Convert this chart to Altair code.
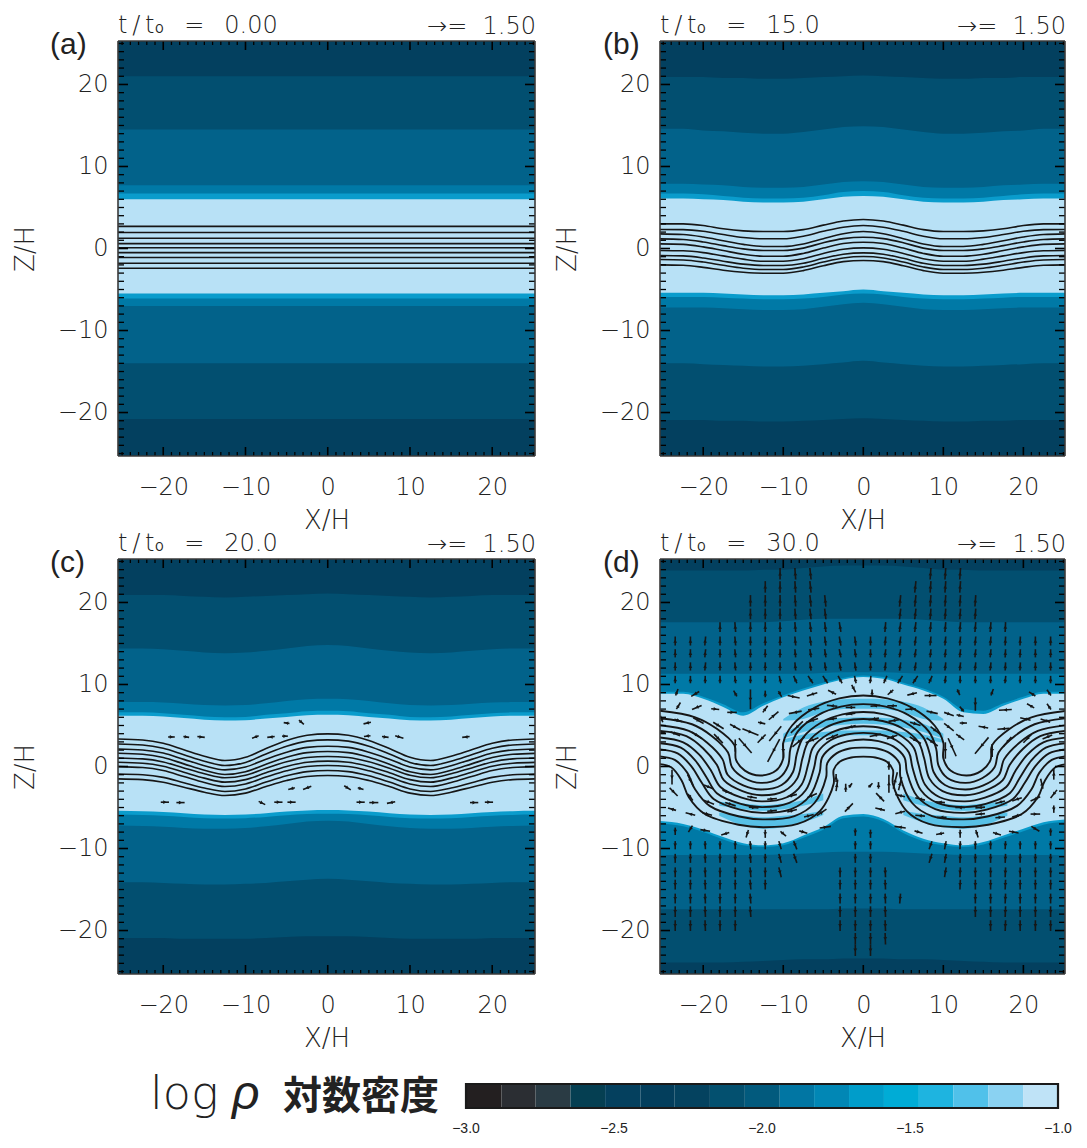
import math
import altair as alt
import pandas as pd

FONT = "DejaVu Sans"
WEIGHT = 200
INK = "#222222"
W_L, W_R, H = 417, 405, 415
X_DOMAIN_L = [-25.5, 25.2]
X_DOMAIN_R = [-25.4, 25.2]
Y_DOMAIN = [-25.3, 25.3]
TOP_EDGE, BOTTOM_EDGE = 26, -26

# density colours, outside-in
C0, C1, C2, C3, C4, LIGHT, STRIPE = "#03405f", "#024f70", "#02628a", "#0079a6", "#0a9ccc", "#b8e1f6", "#2db2e0"
BAND_COLORS = [C0, C1, C2, C3, C4, LIGHT, C4, C3, C2, C1, C0]

X_FLAT = [-26, 26]
X_GRID = [-26, -22.5, -20, -17.5, -15, -12.5, -10, -7.5, -5, -2.5, 0,
          2.5, 5, 7.5, 10, 12.5, 15, 17.5, 20, 22.5, 26]


def sym(h):
    return h + h[-2::-1]


# ---- panel a
A_BOUNDS = [[21, 21], [14.5, 14.5], [7.7, 7.7], [6.7, 6.7], [6.0, 6.0],
            [-5.5, -5.5], [-6.1, -6.1], [-7, -7], [-14, -14], [-20.8, -20.8]]
A_LEVELS = [2.7, 1.95, 1.25, 0.6, 0.1, -0.5, -1.1, -1.8, -2.4]

# ---- panel b
B_BOUNDS = [
    sym([20.9, 20.9, 20.9, 20.8, 20.8, 20.7, 20.7, 20.8, 20.9, 21, 21.1]),
    sym([14.6, 14.6, 14.4, 14.3, 14.1, 14, 14, 14.2, 14.5, 14.8, 14.9]),
    sym([7.9, 7.9, 7.8, 7.7, 7.5, 7.4, 7.4, 7.5, 7.8, 8.1, 8.2]),
    sym([6.7, 6.7, 6.6, 6.4, 6.2, 6.1, 6.1, 6.2, 6.5, 6.9, 7]),
    sym([6.1, 6.1, 6, 5.9, 5.7, 5.6, 5.6, 5.7, 6, 6.3, 6.4]),
    sym([-5.4, -5.4, -5.4, -5.5, -5.6, -5.7, -5.7, -5.6, -5.4, -5.2, -5]),
    sym([-5.9, -5.9, -5.9, -6, -6.1, -6.2, -6.2, -6.1, -5.9, -5.6, -5.5]),
    sym([-7.2, -7.2, -7.2, -7.3, -7.4, -7.5, -7.5, -7.4, -7.1, -6.8, -6.6]),
    sym([-14, -14, -14.1, -14.2, -14.3, -14.4, -14.4, -14.3, -14.1, -13.9, -13.7]),
    sym([-20.9, -20.9, -20.9, -21, -21, -21.1, -21.1, -21, -20.9, -20.8, -20.7]),
]
B_LINES = [
    sym([3.01, 3.0, 2.8, 2.4, 2.15, 2.07, 2.07, 2.3, 2.85, 3.35, 3.54]),
    sym([2.32, 2.3, 2.1, 1.7, 1.35, 1.18, 1.18, 1.5, 2.1, 2.6, 2.80]),
    sym([1.79, 1.7, 1.4, 0.95, 0.5, 0.24, 0.24, 0.55, 1.2, 1.8, 2.07]),
    sym([1.18, 1.1, 0.8, 0.35, -0.05, -0.24, -0.24, 0.05, 0.7, 1.2, 1.38]),
    sym([0.57, 0.5, 0.2, -0.25, -0.7, -0.94, -0.94, -0.6, 0.05, 0.6, 0.77]),
    sym([-0.24, -0.28, -0.5, -0.9, -1.3, -1.55, -1.55, -1.25, -0.6, -0.1, 0.08]),
    sym([-0.85, -0.9, -1.15, -1.55, -1.9, -2.07, -2.07, -1.8, -1.2, -0.7, -0.53]),
    sym([-1.34, -1.4, -1.65, -2.05, -2.4, -2.56, -2.56, -2.25, -1.65, -1.15, -0.98]),
    sym([-1.99, -2.05, -2.3, -2.65, -2.9, -3.01, -3.01, -2.7, -2.1, -1.6, -1.46]),
]

# ---- panel c
C_BOUNDS = [
    sym([20.9, 20.9, 20.9, 20.8, 20.7, 20.6, 20.7, 20.8, 20.9, 21, 21.1]),
    sym([14.4, 14.4, 14.3, 14.1, 13.9, 13.8, 13.9, 14.1, 14.4, 14.7, 14.8]),
    sym([7.85, 7.85, 7.8, 7.65, 7.5, 7.45, 7.5, 7.7, 8, 8.2, 8.25]),
    sym([6.6, 6.6, 6.5, 6.3, 6.1, 6, 6.05, 6.3, 6.5, 6.75, 6.8]),
    sym([6.2, 6.2, 6.1, 5.9, 5.7, 5.6, 5.65, 5.85, 6.05, 6.25, 6.3]),
    sym([-5.4, -5.45, -5.55, -5.7, -5.85, -5.9, -5.85, -5.7, -5.5, -5.35, -5.3]),
    sym([-5.85, -5.9, -6, -6.15, -6.3, -6.35, -6.3, -6.15, -5.95, -5.8, -5.75]),
    sym([-7.2, -7.25, -7.35, -7.5, -7.6, -7.6, -7.5, -7.3, -7, -6.7, -6.6]),
    sym([-14.1, -14.1, -14.2, -14.3, -14.4, -14.4, -14.3, -14.2, -14, -13.8, -13.7]),
    sym([-20.9, -20.9, -20.9, -21, -21, -21, -21, -20.9, -20.8, -20.7, -20.7]),
]
C_LINES = [
    sym([3.37, 3.24, 2.84, 2.05, 1.26, 0.73, 1.12, 2.19, 3.17, 3.82, 3.98]),
    sym([2.76, 2.63, 2.23, 1.44, 0.65, 0.12, 0.50, 1.53, 2.47, 3.09, 3.25]),
    sym([2.15, 2.02, 1.64, 0.87, 0.1, -0.41, -0.06, 0.89, 1.75, 2.33, 2.47]),
    sym([1.62, 1.49, 1.1, 0.32, -0.46, -0.98, -0.64, 0.28, 1.13, 1.69, 1.83]),
    sym([1.05, 0.93, 0.56, -0.17, -0.89, -1.38, -1.07, -0.21, 0.57, 1.09, 1.22]),
    sym([0.52, 0.4, 0.03, -0.7, -1.42, -1.91, -1.6, -0.76, 0.01, 0.52, 0.65]),
    sym([0, -0.12, -0.49, -1.22, -1.95, -2.44, -2.13, -1.29, -0.52, 0, 0.12]),
    sym([-0.9, -1.01, -1.33, -1.98, -2.62, -3.05, -2.74, -1.9, -1.13, -0.62, -0.49]),
    sym([-1.5, -1.6, -1.91, -2.52, -3.13, -3.54, -3.25, -2.44, -1.71, -1.22, -1.1]),
]
# x, z, dx, dz
C_ARROWS = [
    (-5, 5.3, -0.7, 0.1), (-3.2, 5.4, 0.6, -0.5), (4.8, 5.3, -0.9, -0.2),
    (-19, 3.6, 0.8, 0), (-17.2, 3.6, 0.7, -0.1), (-15.4, 3.6, 0.9, -0.1),
    (-8.8, 3.6, -0.8, -0.3), (-6.9, 3.6, -0.9, -0.1), (-5.2, 3.7, 0.7, 0),
    (4.8, 3.7, -0.8, -0.1), (7, 3.6, 0.8, -0.1), (8.7, 3.6, 1, -0.3), (16.8, 3.6, -0.9, -0.1),
    (-4.4, -2.7, -0.8, -0.2), (-2.5, -2.6, -1, -0.4), (2.4, -2.6, 0.8, -0.5), (4, -2.7, 0.7, -0.2),
    (-19.8, -4.35, 1, 0), (-17.9, -4.4, 1, 0), (-8, -4.45, 0.8, -0.4), (-6, -4.35, 1, 0),
    (-4.4, -4.35, 1, 0), (4, -4.35, 1, 0), (5.6, -4.4, 1.1, 0), (7.7, -4.4, -1, -0.2),
    (17.8, -4.4, 1, 0), (19.6, -4.35, 1, 0),
]

# ---- panel d
D_BOUNDS = [
    [23.9, 23.9, 23.9, 23.9, 23.9, 24, 24, 24.2, 24.4, 24.5, 24.5, 24.5, 24.4, 24.2, 24, 24, 23.9, 23.9, 23.9, 23.9, 23.9],
    [17.6, 17.6, 17.6, 17.6, 17.6, 17.6, 17.7, 17.9, 18, 18, 18, 18, 18, 17.9, 17.7, 17.6, 17.6, 17.6, 17.6, 17.6, 17.6],
    [11.3, 11.3, 11.3, 11.3, 11.3, 11.3, 11.3, 11.3, 11.4, 11.5, 11.5, 11.5, 11.4, 11.3, 11.3, 11.3, 11.3, 11.3, 11.3, 11.3, 11.3],
    [9.1, 9.1, 8.5, 7.6, 6.6, 7.7, 8.7, 9.5, 10.2, 10.8, 11.1, 10.9, 10.2, 9.5, 8.5, 7, 6.8, 7.7, 8.5, 9.1, 9.1],
    [8.87, 8.87, 8.25, 7.27, 6.2, 7.4, 8.45, 9.27, 10, 10.6, 10.9, 10.7, 10, 9.27, 8.25, 6.6, 6.4, 7.4, 8.25, 8.87, 8.87],
    [-6.6, -7, -7.7, -8.6, -9.35, -9.6, -9.35, -8.4, -7.4, -6, -5.8, -6.4, -7.8, -8.8, -9.35, -9.6, -9.2, -8.4, -7.6, -6.8, -6.4],
    [-6.9, -7.3, -8, -8.9, -9.6, -9.8, -9.6, -8.7, -7.7, -6.3, -6.1, -6.7, -8.1, -9.1, -9.6, -9.8, -9.5, -8.7, -7.9, -7.1, -6.7],
    [-10.8, -10.8, -10.8, -10.8, -10.8, -10.8, -10.7, -10.6, -10.5, -10.4, -10.4, -10.4, -10.5, -10.6, -10.7, -10.8, -10.8, -10.8, -10.8, -10.8, -10.8],
    [-17.4, -17.4, -17.4, -17.4, -17.4, -17.4, -17.4, -17.4, -17.4, -17.3, -17.3, -17.3, -17.4, -17.4, -17.4, -17.4, -17.4, -17.4, -17.4, -17.4, -17.4],
    [-23.9, -23.9, -23.9, -23.9, -23.8, -23.7, -23.6, -23.5, -23.5, -23.4, -23.4, -23.4, -23.5, -23.5, -23.6, -23.7, -23.8, -23.9, -23.9, -23.9, -23.9],
]

# stripes of slightly lower density: x, upper z, lower z
S_TOP_X = [-10, -7.5, -5, -2.5, 0, 2.5, 5, 7.5, 10]
S_TOP = [
    ([5.8, 7.2, 7.9, 8.2, 8.25, 8.2, 7.9, 7.2, 5.8], [5.6, 5.8, 6.6, 7, 7.05, 7, 6.6, 5.8, 5.6]),
    ([4, 5.2, 5.7, 5.9, 6, 5.9, 5.7, 5.2, 4], [3.4, 4.2, 4.8, 5.1, 5.2, 5.1, 4.8, 4.2, 3.4]),
    ([3.3, 3.9, 4.2, 4.4, 4.4, 4.4, 4.2, 3.9, 3.3], [2.9, 3.3, 3.6, 3.8, 3.8, 3.8, 3.6, 3.3, 2.9]),
]
S_LOW_L_X = [-18, -15, -12.5, -10, -7.5, -5]
S_LOW_R_X = [5, 7.5, 10, 12.5, 15, 18]
S_LOW_L = [
    ([-4.3, -4.5, -4.7, -4.5, -4.1, -3.3], [-4.8, -5.2, -5.4, -5.2, -4.8, -4.1]),
    ([-5.6, -6, -6.2, -6, -5.8, -5.4], [-6, -7.2, -7.6, -7.4, -6.8, -5.9]),
]
S_LOW_R = [
    ([-3.3, -4.1, -4.5, -4.7, -4.5, -4.3], [-4.1, -4.8, -5.2, -5.4, -5.2, -4.8]),
    ([-5.4, -5.8, -6, -6.2, -6, -5.6], [-5.9, -6.8, -7.4, -7.6, -7.2, -6]),
]

# field lines of panel d, left half from the edge to x = 0, read once and mirrored
D_X = [
    [-25.5, -21, -18.3, -16.1, -15.9, -14.8, -12.9, -10.9, -10, -10, -8.9, -6, -3, 0],
    [-25.5, -21.4, -18.9, -16.9, -16.4, -14.9, -12.8, -10.5, -9.4, -9.1, -8.2, -5.6, -2.8, 0],
    [-25.5, -21.8, -19.5, -17.6, -16.95, -15, -12.8, -10.2, -8.8, -8.3, -7.5, -5.2, -2.6, 0],
    [-25.5, -22.1, -20, -18.3, -17.4, -15.1, -12.75, -9.9, -8.25, -7.6, -6.9, -4.8, -2.4, 0],
    [-25.5, -22.5, -20.5, -19, -17.85, -15.2, -12.7, -9.55, -7.7, -6.85, -6.3, -4.45, -2.25, 0],
    [-25.5, -22.8, -21, -19.6, -18.3, -15.3, -12.65, -9.25, -7.2, -6.15, -5.7, -4.1, -2.1, 0],
    [-25.5, -23.2, -21.5, -20.2, -18.7, -15.4, -12.6, -9, -6.7, -5.45, -5.15, -3.75, -1.9, 0],
    [-25.5, -23.55, -22, -21, -19.2, -15.5, -12.55, -8.6, -6.1, -4.65, -4.5, -3.35, -1.7, 0],
    [-25.5, -24, -22.7, -21.8, -19.8, -15.6, -12.5, -8.2, -5.4, -3.7, -3.7, -2.9, -1.5, 0],
]
D_Z = [
    [6.8, 6.0, 4.6, 2.6, 0.8, -0.5, -1.1, -0.5, 1, 2.9, 5, 7.2, 8.3, 8.66],
    [5.9, 5.15, 3.7, 1.7, -0.1, -1.4, -2.0, -1.4, 0.1, 2.2, 4.25, 6.3, 7.3, 7.6],
    [5.05, 4.35, 2.9, 0.9, -1, -2.3, -2.8, -2.25, -0.7, 1.55, 3.55, 5.4, 6.35, 6.65],
    [4.35, 3.7, 2.2, 0.2, -1.7, -3, -3.5, -3, -1.45, 1, 2.95, 4.7, 5.55, 5.8],
    [3.55, 2.95, 1.45, -0.55, -2.5, -3.8, -4.25, -3.75, -2.2, 0.4, 2.3, 3.9, 4.7, 4.9],
    [2.85, 2.3, 0.75, -1.3, -3.25, -4.55, -4.95, -4.45, -2.9, -0.15, 1.7, 3.2, 3.9, 4.1],
    [2.1, 1.6, 0.05, -1.95, -3.95, -5.25, -5.65, -5.2, -3.6, -0.7, 1.1, 2.45, 3.1, 3.3],
    [1.25, 0.8, -0.75, -2.8, -4.8, -6.1, -6.45, -6.05, -4.45, -1.35, 0.4, 1.6, 2.2, 2.3],
    [0.3, -0.1, -1.7, -3.75, -5.8, -7.1, -7.4, -7, -5.4, -2.1, -0.4, 0.6, 1.1, 1.2],
]

# arrow grid of panel d
D_COLS = [-23.5, -21.6, -19.75, -17.9, -16, -14.1, -12.25, -10.4, -8.5, -6.6, -4.75, -2.9, -1,
          0.9, 2.75, 4.6, 6.5, 8.4, 10.25, 12.1, 14, 15.9, 17.75, 19.6, 21.5, 23.4]
D_TILT_UP = [0, 0, 0.1, 0, -0.1, 0, 0, 0, -0.1, -0.15, -0.15, -0.2, -0.15,
             0, 0.1, 0.15, 0.15, 0.1, 0.1, 0.1, 0.1, 0.1, 0.05, 0.05, 0, 0]
D_TILT_NEAR = [0, 0, 0, 0, -0.1, 0, 0, -0.2, -0.4, -0.6, -0.6, -0.5, -0.2,
               0.1, 0.4, 0.6, 0.6, 0.4, 0.1, 0, 0, 0, 0.1, 0, 0, 0]
# (z, column indices, length, tilt)
D_UP_ROWS = [
    (23.5, [7, 8, 9, 17, 18, 19], 1.4, D_TILT_UP),
    (21.9, [6, 7, 8, 9, 16, 17, 18, 19], 1.4, D_TILT_UP),
    (20.2, [5, 6, 7, 8, 9, 10, 15, 16, 17, 18, 19, 20], 1.4, D_TILT_UP),
    (18.6, [5, 6, 7, 8, 9, 10, 15, 16, 17, 18, 19, 20], 1.3, D_TILT_UP),
    (17.0, [3, 4, 5, 6, 7, 8, 9, 10, 11, 14, 15, 16, 17, 18, 19, 20, 21, 22], 1.2, D_TILT_UP),
    (15.3, list(range(26)), 1.1, D_TILT_UP),
    (13.8, list(range(26)), 1.0, D_TILT_UP),
    (12.2, list(range(26)), 1.0, D_TILT_UP),
    (10.6, list(range(26)), 0.9, D_TILT_NEAR),
]
D_TILT_DOWN = [0, 0, 0.05, 0, 0, 0.1, 0, 0.3, 0.4, 0, 0, 0, 0,
               0, 0.05, -0.1, 0, -0.35, -0.2, -0.05, 0, 0, -0.05, 0, 0, 0]
D_DOWN_ROWS = [
    (-9.6, [0, 1, 2, 3, 4, 5, 6, 7, 8, 12, 13, 17, 18, 19, 20, 21, 22, 23, 24, 25], 1.0),
    (-11.2, [0, 1, 2, 3, 4, 5, 6, 7, 8, 12, 13, 17, 18, 19, 20, 21, 22, 23, 24, 25], 1.1),
    (-12.9, [0, 1, 2, 3, 4, 5, 6, 7, 11, 12, 13, 14, 18, 19, 20, 21, 22, 23, 24, 25], 1.2),
    (-14.4, [0, 1, 2, 3, 4, 5, 6, 11, 12, 13, 14, 19, 20, 21, 22, 23, 24, 25], 1.2),
    (-16.1, [0, 1, 2, 3, 4, 5, 11, 12, 13, 14, 15, 20, 21, 22, 23, 24, 25], 1.2),
    (-17.7, [0, 1, 2, 3, 4, 5, 11, 12, 13, 14, 20, 21, 22, 23, 24, 25], 1.3),
    (-19.4, [0, 1, 2, 3, 4, 11, 12, 13, 14, 21, 22, 23, 24, 25], 1.3),
    (-21.0, [12, 13, 14], 1.4),
    (-22.4, [12, 13], 1.4),
]
# x, z, dx, dz : arrows among the field lines
D_ARROWS_TOP = [
    (-23.3, 9.05, 0.3, 0.8), (-21, 8.85, -1, -0.6), (-16, 8.9, -0.4, 0.7), (-14.1, 8.2, 0, -2.4),
    (-12.25, 8.85, 0, 0.8), (-10.4, 8.85, 0.4, -0.7), (-8.7, 8.5, 1.5, -0.3), (-6.4, 8.8, -1.3, -0.4),
    (-3.9, 9.05, -1, 0.5), (-1.2, 9.5, 0.5, -0.9),
    (-23.1, 7.4, 0.5, 0.8), (-20.8, 7.2, -1.2, -0.5), (-18.5, 7, 1, -0.1), (-16.4, 6.6, 1.2, 0),
    (-12.25, 7, 0.6, 0.8), (-11.2, 6.2, 1.2, 1.0), (-8.5, 6.6, -1.6, -0.3), (-6.2, 7, -1.4, -0.2),
    (-3.9, 7.4, -1.3, 0.1), (-1.6, 7.2, -1.2, 0),
    (-25.2, 5.8, -0.3, 0.8), (-23.1, 5.6, 1, -0.3), (-20.6, 5.6, 1.3, -0.7), (-18.1, 5, 1.3, -0.8),
    (-16, 4.8, 1.3, -0.7), (-14.1, 4.2, 2, -0.8), (-12.7, 5.3, 0.9, -0.2), (-11, 4, -1.5, -1.8),
    (-8.3, 4.8, -1.5, -1.4), (-6.4, 5.6, -1.5, -0.5), (-3.9, 5.8, -1.2, -0.2), (-1.6, 6.4, -1.2, -0.2),
    (-25.2, 4.2, 1, -0.2), (-23.5, 4, 1.2, -0.5), (-20.8, 3.8, 1.3, -0.8), (-18.1, 3.4, 1.1, -1.1),
    (-16, 2.55, 0, -1.5), (-14.75, 2.55, 1.6, -1.8), (-12.7, 3.4, -1, -1), (-11.2, 1.95, -1.5, -2.8),
    (-10, 1.95, 0, -1.8), (-8.1, 3, -1.5, -1.2), (-6.4, 3.2, -1.6, -0.6), (-3.9, 3.6, -1.5, -0.6),
    (-1.6, 4.8, -1.3, -0.4),
    (1.1, 9, 0, 0.8), (3.4, 9.05, -0.7, -0.6), (6.1, 8.85, -1.2, -0.3), (8.4, 8.65, 1.5, 0),
    (11.9, 9.05, 0.3, -0.7), (14, 7.6, 0, -1.6), (16.1, 9.05, 0.3, 0.8), (21.1, 8.85, -0.8, 0.5),
    (23.2, 9, -0.5, 0.7),
    (1.5, 7.4, -1.2, -0.1), (3.6, 7.4, -1.2, 0), (5.9, 7, -1.3, -0.1), (8.6, 6.6, 1.4, -0.3),
    (10.7, 6.4, 1.2, -0.4), (12.1, 6.2, 0.9, -0.2), (12.3, 7, -0.5, 0.6), (17.75, 6.9, -1.6, -0.1),
    (20.9, 7.4, -0.9, 0.5), (23.2, 7.3, -0.5, 0.7),
    (1.3, 5.8, -1.3, -0.2), (3.8, 5.6, -1.3, -0.2), (6.5, 5.2, 1.3, -0.4), (9, 4.4, 1.2, -0.9),
    (10.7, 4.8, 1.2, -0.9), (12.5, 5.3, 0.9, 0), (15, 4.8, -1.2, 0.2), (17.5, 4.6, -1.5, -0.1),
    (20.25, 5.8, -1.3, 0.3), (22.75, 5.6, -1.2, 0.4),
    (1.5, 3.8, -1.4, -0.3), (3.6, 3.6, -1.3, -0.4), (6.5, 3.2, 1.4, -0.8), (8.6, 3, 1.4, -1),
    (10.25, 1.95, 0, -2), (11.1, 2.35, 1, -2.2), (12.1, 3.6, 1, -0.7), (14.8, 2.55, -1.7, -2),
    (16.1, 1.95, 0, -1.6), (18, 3, -1, -1.2), (20.5, 3.4, -1, -1), (23, 3.6, -1.2, -0.5),
]
D_ARROWS_LOW = [
    (-23.9, -1.3, 0, -1.8), (-23.7, -3.1, 1, -1), (-21.6, -1.7, 0.7, -1.4), (-21.6, -3.75, 0.6, -0.8),
    (-19.3, -2.5, 1.2, -0.5), (-19.3, -4.35, 1.3, -0.5), (-17, -3.1, 1.2, -0.4), (-16.6, -4.6, 1.3, -0.4),
    (-13.9, -3.75, 1.2, -0.2), (-13.7, -5, 1.2, -0.1), (-11.4, -3.95, 1.2, 0.1), (-11.4, -5.4, 1.2, 0.1),
    (-8.9, -3.55, 1.2, 0.3), (-8.9, -5.4, 1.2, 0.3), (-6.4, -3.55, 1.2, 0.5), (-6.8, -6, 1.2, 0.3),
    (-3.3, -2.3, 0.2, 1.4), (-3.4, -1.4, 0, 1.0), (-5.2, -5.6, 1.2, 0.8), (-1.8, -5, 1, 1),
    (-1.6, -2.3, 0.4, 0.5), (-2.2, -2.6, 0, 1), (-23.9, -5.2, -1, 0.3), (-21.6, -5.8, -1.2, 0.3),
    (-19.5, -5.8, 1.2, -0.3), (-23.5, -7.9, 0, -0.9), (-21.6, -7.6, -0.5, -0.8), (-19.75, -7.8, 1.2, -0.2),
    (-17.25, -8.2, -1, -0.3), (-14.5, -8.2, -0.3, -0.9), (-12.25, -8.2, 0, -1), (-10, -8.2, 0.7, -0.6),
    (-7.5, -8, 1, -0.3), (-4.75, -7.4, 1.4, 0.2), (-1, -8, 0, -0.9),
    (3.2, 0.1, 0, 1), (3.2, -2.1, 0, 2.2), (4, -1.7, 0.5, 2), (4.6, -2.1, 0.4, 1.6),
    (0.9, -2.3, 0.5, 0.5), (1.9, -2.3, 0, 0.8), (2.1, -3.75, -1, 1), (2.1, -5.2, -1.2, 0.3),
    (4.6, -5.6, -1.2, -0.3), (4.6, -3.55, -1.2, 0.3), (7.1, -3.95, -1.2, 0.3), (7.1, -6, -1.2, 0.1),
    (9.6, -4.35, -1.2, 0.1), (9.8, -6.2, -1.2, 0), (12.1, -5, -1.2, 0), (14.6, -5, -1.2, -0.1),
    (14.6, -5.8, -1.2, -0.1), (17.1, -4.35, -1.2, -0.3), (17.1, -6.2, 1.2, 0.1), (19.2, -4, -1.2, -0.4),
    (19.2, -6, -1.2, -0.3), (21.5, -3.95, -1.2, -0.5), (21.5, -5.8, 1.2, 0), (23.8, -3.35, -0.8, -1),
    (23.8, -5.2, 0, -0.9), (23.8, -0.9, 0, 1.4), (22.3, -2.1, -0.3, 1.2),
    (4.6, -7.4, -1.4, 0.2), (6.9, -8, 1, -0.3), (9.6, -8.2, -1, -0.2), (12.1, -8.2, 0, -1),
    (14.2, -8.2, 0.3, -0.9), (16.7, -8.2, 1, -0.3), (18.8, -8, 1.2, -0.2), (21.5, -7.6, 1, -0.6),
    (23.4, -8, 0, -0.9), (0.9, -8.2, 0, -1),
]

# ---- colour bar
CB_EDGES = [-3.0, -2.88, -2.765, -2.647, -2.53, -2.41, -2.295, -2.176, -2.058, -1.94, -1.824,
            -1.706, -1.588, -1.47, -1.353, -1.235, -1.118, -1.0]
CB_COLORS = ["#231f20", "#2b2e33", "#2a3b44", "#053f52", "#04405e", "#033e5c", "#04425f", "#03506f",
             "#025a7d", "#0176a3", "#0187b5", "#009dca", "#00acd6", "#1eb4e0", "#50c1ea", "#8ad2f2", "#bfe3f7"]
CB_TICKS = [-3.0, -2.5, -2.0, -1.5, -1.0]
CB_MIN = -4.1757
CB_PER_PX = 2.0 / 592

MAJOR = [-20, -10, 0, 10, 20]
MINOR = [v for v in range(-25, 26) if v % 10 != 0]


def d_arrows():
    out = list(D_ARROWS_TOP) + list(D_ARROWS_LOW)
    for z, cols, length, tilt in D_UP_ROWS:
        for i in cols:
            out.append((D_COLS[i], z, tilt[i], length))
    for z, cols, length in D_DOWN_ROWS:
        for i in cols:
            out.append((D_COLS[i], z, D_TILT_DOWN[i], -length))
    return out


def d_lines():
    xs, zs = [], []
    for lx, lz in zip(D_X, D_Z):
        xs.append(lx + [-v for v in lx[-2::-1]])
        zs.append(lz + lz[-2::-1])
    return xs, zs


def panel(w, xdom, grid, bounds, line_x, line_z, arrows, stripes, tlabel, letter, letter_x):
    xs = alt.Scale(domain=xdom, nice=False, zero=False)
    ys = alt.Scale(domain=Y_DOMAIN, nice=False, zero=False)
    xa = alt.X("x:Q", scale=xs, axis=None)
    ya = alt.Y("z:Q", scale=ys, axis=None)

    edges = [[TOP_EDGE] * len(grid)] + bounds
    rows = []
    for b, col in enumerate(BAND_COLORS):
        for i, gx in enumerate(grid):
            # every band runs down to the bottom and is painted over by the next one
            rows.append({"x": gx, "z": edges[b][i], "z2": BOTTOM_EDGE, "band": b, "col": col})
    first = alt.Chart(pd.DataFrame(rows)).mark_area(interpolate="monotone", clip=True).encode(
        x=alt.X("x:Q", scale=xs, axis=alt.Axis(
            values=MAJOR, format="d", tickSize=0, domain=False, grid=False, title="X/H",
            labelFont=FONT, labelFontSize=24, labelFontWeight=WEIGHT, labelColor=INK, labelPadding=19,
            titleFont=FONT, titleFontSize=26, titleFontWeight=WEIGHT, titleColor=INK, titlePadding=8)),
        y=alt.Y("z:Q", scale=ys, axis=alt.Axis(
            values=MAJOR, format="d", tickSize=0, domain=False, grid=False, title="Z/H",
            labelFont=FONT, labelFontSize=24, labelFontWeight=WEIGHT, labelColor=INK, labelPadding=10,
            titleFont=FONT, titleFontSize=26, titleFontWeight=WEIGHT, titleColor=INK, titlePadding=19)),
        y2="z2:Q",
        detail="band:Q",
        color=alt.Color("col:N", scale=None),
    )
    layers = [first]

    if stripes:
        srows = []
        for k, (sx, hi, lo) in enumerate(stripes):
            for a, b, c in zip(sx, hi, lo):
                srows.append({"x": a, "z": b, "z2": c, "s": k})
        layers.append(alt.Chart(pd.DataFrame(srows)).mark_area(
            interpolate="monotone", color=STRIPE, opacity=0.7, clip=True
        ).encode(x=xa, y=ya, y2="z2:Q", detail="s:N"))

    heavy = bool(arrows) and len(arrows) > 100
    lrows = []
    for k, (lx, lz) in enumerate(zip(line_x, line_z)):
        for i, (a, b) in enumerate(zip(lx, lz)):
            lrows.append({"x": a, "z": b, "k": k, "i": i})
    layers.append(alt.Chart(pd.DataFrame(lrows)).mark_line(
        interpolate="catmull-rom" if heavy else "monotone",
        color="#161616", strokeWidth=1.9 if heavy else 1.6, clip=True
    ).encode(x=xa, y=ya, detail="k:N", order="i:Q"))

    if arrows:
        sx_px = w / (xdom[1] - xdom[0])
        sy_px = H / (Y_DOMAIN[1] - Y_DOMAIN[0])
        arows = []
        for ax, az, du, dv in arrows:
            ang = math.degrees(math.atan2(du * sx_px, dv * sy_px)) % 360
            arows.append({"x": ax - du / 2, "x1": ax + du / 2, "z": az - dv / 2, "z1": az + dv / 2,
                          "mx": ax, "mz": az, "ang": ang})
        adf = pd.DataFrame(arows)
        layers.append(alt.Chart(adf).mark_rule(color="#161616", strokeWidth=1.6, clip=True).encode(
            x=xa, x2="x1:Q", y=ya, y2="z1:Q"))
        layers.append(alt.Chart(adf).mark_point(
            shape="triangle-up", filled=True, color="#161616", size=14, opacity=1, clip=True
        ).encode(x=alt.X("mx:Q", scale=xs, axis=None), y=alt.Y("mz:Q", scale=ys, axis=None),
                 angle=alt.Angle("ang:Q", scale=None)))

    # ticks pointing inwards on all four sides, one unit apart with a long one every ten
    for vals, len_x, len_y, weight in ((MAJOR, 9, 10, 1.6), (MINOR, 4, 6, 1.3)):
        tdf = pd.DataFrame({"x": vals, "z": vals})
        tv = alt.Chart(tdf).mark_tick(orient="vertical", size=len_x, thickness=weight,
                                      color="#000000", opacity=1)
        th = alt.Chart(tdf).mark_tick(orient="horizontal", size=len_y, thickness=weight,
                                      color="#000000", opacity=1)
        layers.append(tv.encode(x=xa, y=alt.value(len_x / 2)))
        layers.append(tv.encode(x=xa, y=alt.value(H - len_x / 2)))
        layers.append(th.encode(y=ya, x=alt.value(len_y / 2)))
        layers.append(th.encode(y=ya, x=alt.value(w - len_y / 2)))

    # frame
    frame = alt.Chart(pd.DataFrame({"a": [0]})).mark_rule(color="#3a3a3a", strokeWidth=1.6)
    layers.append(frame.encode(x=alt.value(0), x2=alt.value(w), y=alt.value(0)))
    layers.append(frame.encode(x=alt.value(0), x2=alt.value(w), y=alt.value(H)))
    layers.append(frame.encode(x=alt.value(0), y=alt.value(0), y2=alt.value(H)))
    layers.append(frame.encode(x=alt.value(w), y=alt.value(0), y2=alt.value(H)))

    def label(text, x, y, size, align, **kw):
        return alt.Chart(pd.DataFrame({"t": [text]})).mark_text(
            align=align, baseline="alphabetic", font=FONT, fontSize=size, color=INK,
            fontWeight=WEIGHT, **kw
        ).encode(text="t:N", x=alt.value(x), y=alt.value(y))

    layers.append(label(tlabel, 0, -8, 24, "left"))
    layers.append(label("→=\u00a0\u00a01.50", w + 1, -7, 24, "right"))
    layers.append(alt.Chart(pd.DataFrame({"t": [letter]})).mark_text(
        align="left", baseline="alphabetic", font="Liberation Sans", fontSize=30, color=INK
    ).encode(text="t:N", x=alt.value(letter_x), y=alt.value(13)))

    return alt.layer(*layers).resolve_axis(x="independent", y="independent").properties(width=w, height=H)


def colorbar():
    # the plot area of this panel is the width of panel (a); the bar runs on past it
    xs = alt.Scale(domain=[CB_MIN, CB_MIN + W_L * CB_PER_PX], nice=False, zero=False)
    df = pd.DataFrame({"a": CB_EDGES[:-1], "b": CB_EDGES[1:], "c": CB_COLORS})
    cells = alt.Chart(df).mark_rect().encode(
        x=alt.X("a:Q", scale=xs, axis=None),
        x2="b:Q", y=alt.value(7), y2=alt.value(31), color=alt.Color("c:N", scale=None))
    box = alt.Chart(pd.DataFrame({"a": [-3.0], "b": [-1.0]})).mark_rect(
        fill=None, stroke="#1a1a1a", strokeWidth=2.2
    ).encode(x=alt.X("a:Q", scale=xs, axis=None), x2="b:Q", y=alt.value(7), y2=alt.value(31))
    ticks = alt.Chart(pd.DataFrame({"v": CB_TICKS})).mark_text(
        baseline="alphabetic", font="Liberation Sans", fontSize=14, color=INK
    ).encode(x=alt.X("v:Q", scale=xs, axis=None), y=alt.value(56), text=alt.Text("v:Q", format=".1f"))

    def label(text, x, size, font, **kw):
        return alt.Chart(pd.DataFrame({"t": [text]})).mark_text(
            align="left", baseline="alphabetic", font=font, fontSize=size, color=INK, **kw
        ).encode(text="t:N", x=alt.value(x), y=alt.value(32))

    return alt.layer(
        cells, box, ticks,
        label("log", 32, 46, FONT, fontWeight=WEIGHT),
        label("ρ", 114, 48, "Liberation Sans", fontStyle="italic"),
        label("対数密度", 165, 39, "Noto Sans CJK JP", fontWeight="bold"),
    ).properties(width=W_L, height=31)


dl_x, dl_z = d_lines()
flat_x = [X_FLAT for _ in A_LEVELS]
flat_z = [[v, v] for v in A_LEVELS]
grid_x = [X_GRID for _ in B_LINES]

stripes_d = [(S_TOP_X, hi, lo) for hi, lo in S_TOP] \
    + [(S_LOW_L_X, hi, lo) for hi, lo in S_LOW_L] \
    + [(S_LOW_R_X, hi, lo) for hi, lo in S_LOW_R]

GAP = "\u00a0\u00a0\u2009"
SLASH = "t\u2009/\u2009t₀"
pa = panel(W_L, X_DOMAIN_L, X_FLAT, A_BOUNDS, flat_x, flat_z, None, None, SLASH + GAP + "=" + GAP + "0.00", "(a)", -68)
pb = panel(W_R, X_DOMAIN_R, X_GRID, B_BOUNDS, grid_x, B_LINES, None, None, SLASH + GAP + "=" + GAP + "15.0", "(b)", -57)
pc = panel(W_L, X_DOMAIN_L, X_GRID, C_BOUNDS, grid_x, C_LINES, C_ARROWS, None, SLASH + GAP + "=" + GAP + "20.0", "(c)", -68)
pd_ = panel(W_R, X_DOMAIN_R, X_GRID, D_BOUNDS, dl_x, dl_z, d_arrows(), stripes_d, SLASH + GAP + "=" + GAP + "30.0", "(d)", -57)

chart = alt.concat(pa, pb, pc, pd_, colorbar(), columns=2,
                   spacing=alt.RowColnumber(row=103, column=125), bounds="flush").properties(
    padding={"left": 4, "top": 6, "right": 0, "bottom": 0}
).configure_view(stroke=None)

chart.save("out.html", embed_options={"renderer": "svg", "actions": False})
